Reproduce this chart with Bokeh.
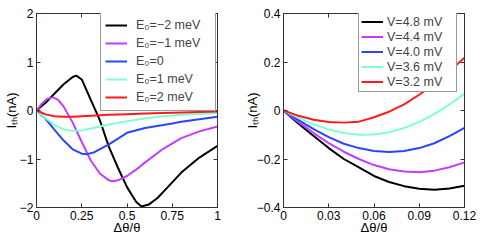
from bokeh.plotting import figure
from bokeh.layouts import row
from bokeh.models import Range1d, FixedTicker, LinearAxis, Legend, LegendItem
from bokeh.embed import file_html
from bokeh.resources import INLINE

FONT = "Liberation Sans"
COLORS = ["#000000", "#bf3eff", "#2846ff", "#7fffd4", "#ff1a1a"]
FRAME = "#333333"

# ---------------- left panel data ----------------
left_names = ["E\u2080=\u22122 meV", "E\u2080=\u22121 meV", "E\u2080=0", "E\u2080=1 meV", "E\u2080=2 meV"]
left_x_m2 = [0, 0.05, 0.1, 0.15, 0.2, 0.22, 0.25, 0.3, 0.35, 0.4, 0.45, 0.5, 0.55, 0.58, 0.62, 0.67, 0.72, 0.8, 0.9, 1.0]
left_y_m2 = [0, 0.16, 0.35, 0.54, 0.69, 0.72, 0.64, 0.22, -0.2, -0.75, -1.18, -1.58, -1.88, -1.98, -1.94, -1.8, -1.6, -1.28, -0.97, -0.73]
left_x_m1 = [0, 0.03, 0.06, 0.09, 0.12, 0.15, 0.2, 0.25, 0.3, 0.35, 0.4, 0.42, 0.45, 0.5, 0.55, 0.6, 0.7, 0.8, 0.9, 1.0]
left_y_m1 = [0, 0.14, 0.24, 0.27, 0.22, 0.08, -0.25, -0.65, -1.03, -1.3, -1.44, -1.46, -1.44, -1.35, -1.22, -1.07, -0.79, -0.57, -0.43, -0.33]
left_x_0 = [0, 0.05, 0.1, 0.15, 0.2, 0.25, 0.28, 0.32, 0.4, 0.5, 0.6, 0.7, 0.75, 0.8, 0.9, 1.0]
left_y_0 = [0, -0.17, -0.4, -0.62, -0.8, -0.89, -0.9, -0.86, -0.7, -0.46, -0.36, -0.3, -0.27, -0.23, -0.18, -0.13]
left_x_p1 = [0, 0.05, 0.1, 0.15, 0.2, 0.25, 0.3, 0.4, 0.5, 0.6, 0.7, 0.8, 0.9, 1.0]
left_y_p1 = [0, -0.16, -0.3, -0.39, -0.42, -0.41, -0.37, -0.29, -0.22, -0.16, -0.12, -0.09, -0.07, -0.05]
left_x_p2 = [0, 0.05, 0.1, 0.15, 0.2, 0.3, 0.4, 0.5, 0.6, 0.7, 0.8, 0.9, 1.0]
left_y_p2 = [0, -0.08, -0.12, -0.13, -0.13, -0.11, -0.09, -0.075, -0.06, -0.05, -0.04, -0.03, -0.02]
left_xticks = [0, 0.25, 0.5, 0.75, 1]
left_xtick_labels = ["0", "0.25", "0.5", "0.75", "1"]
left_yticks = [-2, -1, 0, 1, 2]
left_ytick_labels = ["\u22122", "\u22121", "0", "1", "2"]

# ---------------- right panel data ----------------
right_names = ["V=4.8 mV", "V=4.4 mV", "V=4.0 mV", "V=3.6 mV", "V=3.2 mV"]
right_x = [0, 0.01, 0.02, 0.03, 0.04, 0.05, 0.06, 0.07, 0.08, 0.09, 0.10, 0.11, 0.12]
right_y_48 = [0, -0.055, -0.105, -0.155, -0.2, -0.235, -0.27, -0.295, -0.312, -0.323, -0.327, -0.322, -0.31]
right_y_44 = [0, -0.048, -0.093, -0.135, -0.17, -0.2, -0.225, -0.242, -0.252, -0.255, -0.248, -0.234, -0.214]
right_y_40 = [0, -0.04, -0.077, -0.11, -0.137, -0.155, -0.167, -0.171, -0.167, -0.155, -0.135, -0.106, -0.072]
right_y_36 = [0, -0.03, -0.057, -0.078, -0.093, -0.1, -0.099, -0.09, -0.072, -0.047, -0.015, 0.025, 0.07]
right_y_32 = [0, -0.022, -0.038, -0.047, -0.05, -0.046, -0.028, -0.005, 0.025, 0.065, 0.11, 0.162, 0.218]
right_xticks = [0, 0.03, 0.06, 0.09, 0.12]
right_xtick_labels = ["0", "0.03", "0.06", "0.09", "0.12"]
right_yticks = [-0.4, -0.2, 0, 0.2, 0.4]
right_ytick_labels = ["\u22120.4", "\u22120.2", "0", "0.2", "0.4"]

X_LABEL = "\u0394\u03b8/\u03b8"
Y_LABEL = "I\u209c\u2095(nA)"


def style_axis(ax, ticks, labels, show=True):
    ax.ticker = FixedTicker(ticks=ticks)
    ax.major_label_overrides = {t: (l if show else "") for t, l in zip(ticks, labels)}
    ax.major_tick_in = 4
    ax.major_tick_out = 0
    ax.minor_tick_line_color = None
    ax.axis_line_color = FRAME
    ax.major_tick_line_color = FRAME
    ax.major_label_text_font = FONT
    ax.major_label_text_font_size = "12px" if show else "1px"
    ax.major_label_text_color = "black"
    ax.major_label_standoff = 3 if show else 0


def label_axis(ax, text, standoff):
    ax.axis_label = text
    ax.axis_label_text_font = FONT
    ax.axis_label_text_font_size = "13px"
    ax.axis_label_text_font_style = "normal"
    ax.axis_label_text_color = "black"
    ax.axis_label_standoff = standoff


def make_panel(xr, yr, xticks, xlabels, yticks, ylabels, series, names,
               border_left, border_right, ylab_standoff, leg_loc, leg_pad,
               leg_h, leg_w, glyph_w, standoff):
    p = figure(frame_width=181, frame_height=194,
               x_range=Range1d(*xr), y_range=Range1d(*yr),
               output_backend="svg", toolbar_location=None,
               min_border_left=border_left, min_border_right=border_right,
               min_border_top=13, min_border_bottom=38,
               background_fill_color="white", border_fill_color="white")
    p.grid.visible = False
    p.outline_line_color = FRAME
    p.outline_line_width = 1
    bottom = p.xaxis[0]
    leftax = p.yaxis[0]
    style_axis(bottom, xticks, xlabels)
    style_axis(leftax, yticks, ylabels)
    label_axis(bottom, X_LABEL, -3)
    label_axis(leftax, Y_LABEL, ylab_standoff)

    top = LinearAxis()
    style_axis(top, xticks, xlabels, show=False)
    p.add_layout(top, "above")
    right = LinearAxis()
    style_axis(right, yticks, ylabels, show=False)
    p.add_layout(right, "right")

    items = []
    for (xs, ys), col, nm in zip(series, COLORS, names):
        r = p.line(xs, ys, line_color=col, line_width=2)
        items.append(LegendItem(label=nm, renderers=[r]))
    leg = Legend(items=items, location=leg_loc, padding=leg_pad, spacing=0,
                 margin=0, label_height=leg_h, glyph_height=leg_h,
                 glyph_width=glyph_w, label_standoff=standoff, label_width=leg_w,
                 label_text_font=FONT, label_text_font_size="12.5px",
                 border_line_color=FRAME, border_line_width=1,
                 background_fill_color="white", background_fill_alpha=1)
    p.add_layout(leg)
    return p


left_series = [(left_x_m2, left_y_m2), (left_x_m1, left_y_m1), (left_x_0, left_y_0),
               (left_x_p1, left_y_p1), (left_x_p2, left_y_p2)]
right_series = [(right_x, right_y_48), (right_x, right_y_44), (right_x, right_y_40),
                (right_x, right_y_36), (right_x, right_y_32)]

p1 = make_panel((0, 1), (-2, 2), left_xticks, left_xtick_labels, left_yticks,
                left_ytick_labels, left_series, left_names, 36, 23, -2, (64, 96),
                4, 18, 75, 22, 9)
p2 = make_panel((0, 0.12), (-0.4, 0.4), right_xticks, right_xtick_labels, right_yticks,
                right_ytick_labels, right_series, right_names, 43, 16, -6, (75, 115),
                2, 15, 67, 22, 4)

layout = row(p1, p2)
open("out.html", "w").write(file_html(layout, INLINE))
